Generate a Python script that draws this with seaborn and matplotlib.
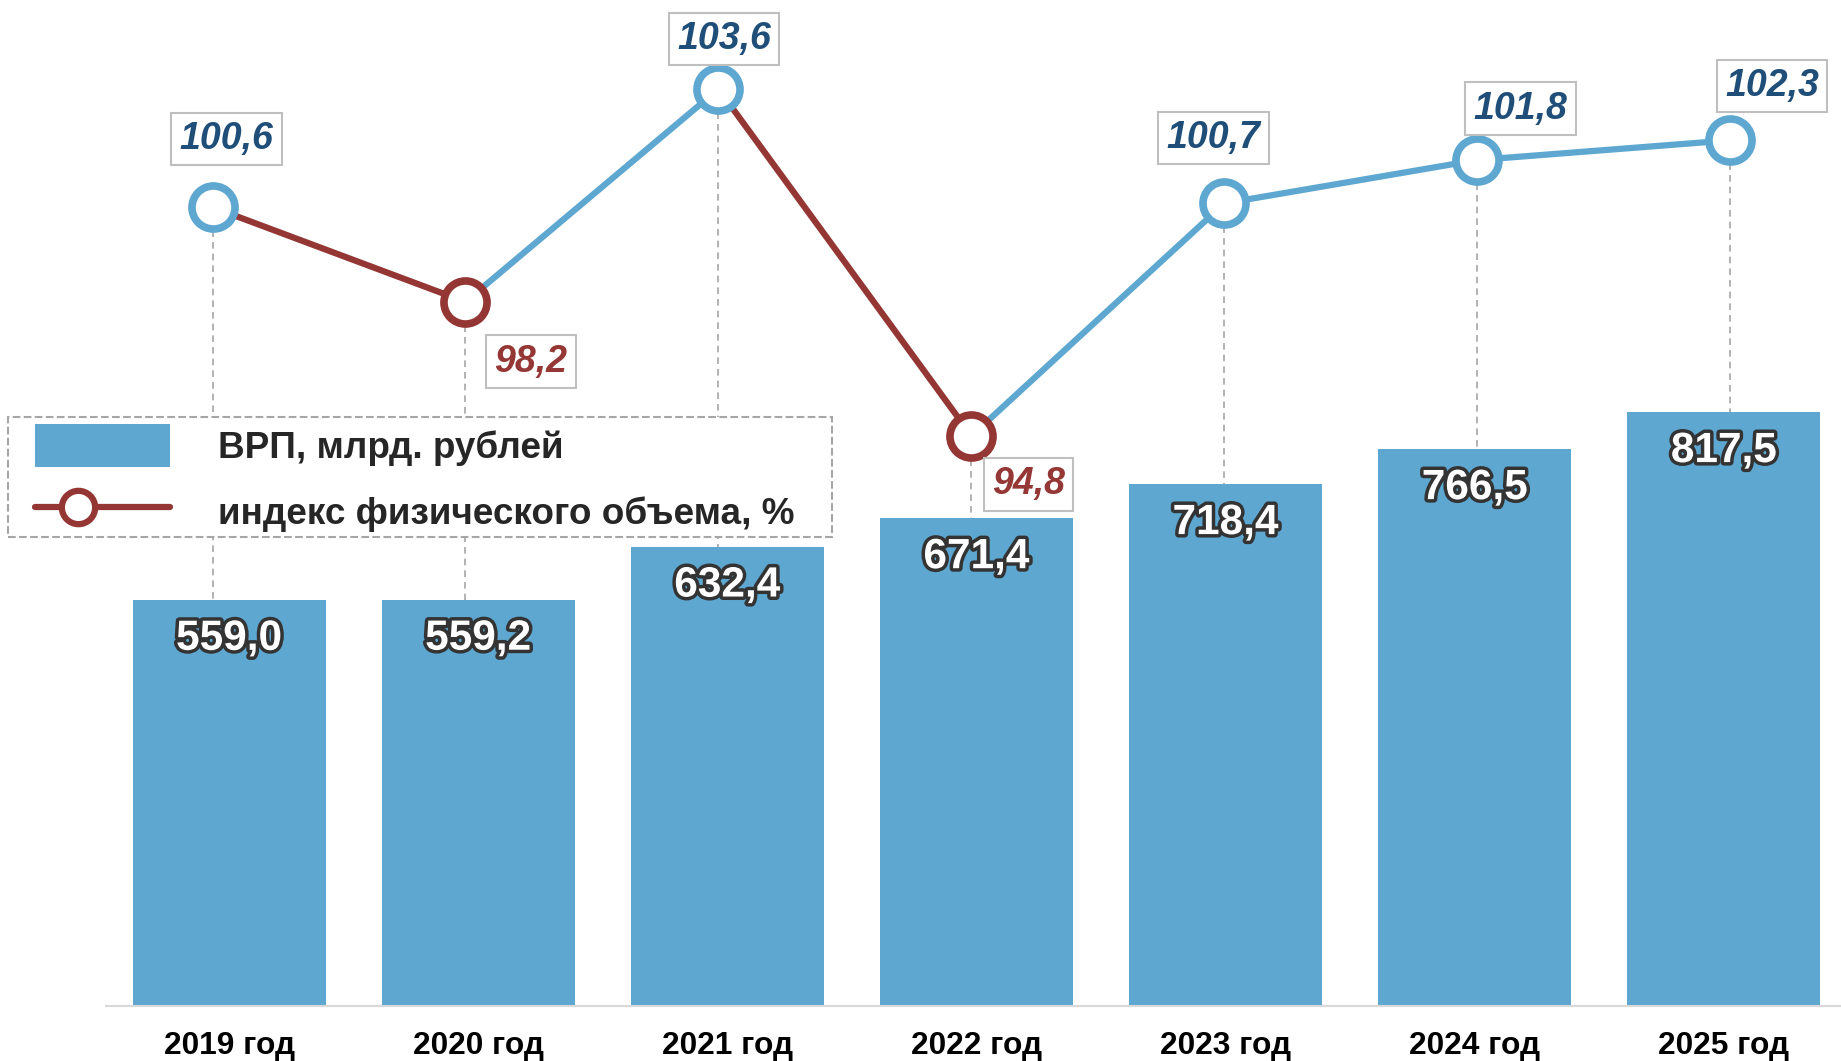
import matplotlib
matplotlib.use("Agg")
import matplotlib.pyplot as plt
import matplotlib.patheffects as pe
from matplotlib.patches import Patch, Rectangle
from matplotlib.lines import Line2D
from matplotlib.legend_handler import HandlerLine2D
import seaborn as sns
import pandas as pd

# data
years = ["2019 год", "2020 год", "2021 год", "2022 год", "2023 год", "2024 год", "2025 год"]
grp = [559.0, 559.2, 632.4, 671.4, 718.4, 766.5, 817.5]
index_vals = [100.6, 98.2, 103.6, 94.8, 100.7, 101.8, 102.3]
legend_labels = ["ВРП, млрд. рублей", "индекс физического объема, %"]

# style
BLUE = "#5DA7D1"
RED = "#943634"
DARK_BLUE = "#1F4E79"
LABEL_RED = "#953735"
GREY = "#A6A6A6"

# label offsets (points) for the index labels, hand-placed like in the original
label_offsets = [(10, 49), (47, -43), (4, 36), (41, -35), (-8, 47), (31, 37), (30, 39)]


def fmt(v):
    return f"{v:.1f}".replace(".", ",")


class LeftMarkerHandler(HandlerLine2D):
    # put the legend marker at about a third of the handle, like Excel does
    def create_artists(self, *args, **kwargs):
        artists = super().create_artists(*args, **kwargs)
        legline = artists[0]
        x = legline.get_xdata()
        legline.set_xdata([x[0], x[0] + 0.32 * (x[-1] - x[0]), x[-1]])
        return artists


sns.set_style("white")
plt.rcParams["font.family"] = ["Liberation Sans", "DejaVu Sans"]

W, H = 1841, 1061
fig = plt.figure(figsize=(W / 100, H / 100), dpi=100)
rect = [106 / W, 55 / H, 1735 / W, 1006 / H]

# Bars
ax = fig.add_axes(rect)
df = pd.DataFrame({"year": years, "grp": grp})
sns.barplot(data=df, x="year", y="grp", color=BLUE, saturation=1, width=0.775,
            linewidth=0, ax=ax)
ax.set_xlim(-0.494, 6.47)
ax.set_ylim(0, 1385)
ax.set_xlabel("")
ax.set_ylabel("")
ax.set_yticks([])
for s in ["top", "right", "left"]:
    ax.spines[s].set_visible(False)
ax.spines["bottom"].set_color("#D9D9D9")
ax.spines["bottom"].set_linewidth(1.5)
ax.tick_params(axis="x", length=0, pad=18, labelsize=22.8)
for lbl in ax.get_xticklabels():
    lbl.set_fontweight("bold")
    lbl.set_color("black")

for i, v in enumerate(grp):
    ax.annotate(fmt(v), (i, v), xytext=(0, -28), textcoords="offset points",
                ha="center", va="center", fontsize=30.5, fontweight="bold", color="white",
                path_effects=[pe.withStroke(linewidth=5, foreground="#333333")])

# Index line on its own axes
ax2 = fig.add_axes(rect)
ax2.set_xlim(-0.421, 6.437)
ax2.set_ylim(80.33, 105.86)
ax2.axis("off")
ax2.patch.set_visible(False)

for i in range(len(index_vals) - 1):
    c = RED if index_vals[i + 1] < index_vals[i] else BLUE
    ax2.plot([i, i + 1], index_vals[i:i + 2], color=c, lw=4.5, solid_capstyle="butt", zorder=3)

for i, v in enumerate(index_vals):
    disp = ax.transData.transform((i, grp[i]))
    y_top = ax2.transData.inverted().transform(disp)[1]
    ax2.plot([i, i], [v, y_top], color=GREY, lw=1.2, ls=(0, (4, 3)), zorder=2)

    c = BLUE if v >= 100 else RED
    ax2.plot(i, v, marker="o", ms=31, mew=5.5, mfc="white", mec=c, ls="none", zorder=5)

    tc = DARK_BLUE if v >= 100 else LABEL_RED
    ax2.annotate(fmt(v), (i, v), xytext=label_offsets[i], textcoords="offset points",
                 ha="center", va="center", fontsize=27, fontweight="bold", fontstyle="italic",
                 color=tc, zorder=6,
                 bbox=dict(boxstyle="square,pad=0.22", fc="white", ec="#BFBFBF", lw=1.5))

# Legend: dashed white box drawn separately, legend on top of it
box = Rectangle((8 / W, 1 - 537 / H), 824 / W, 120 / H, transform=fig.transFigure,
                facecolor="white", edgecolor=GREY, linestyle="--", linewidth=1.5, zorder=5)
fig.patches.append(box)

line_handle = Line2D([], [], color=RED, lw=4.5, marker="o", ms=24, mew=4.5, mfc="white", mec=RED)
handles = [Patch(facecolor=BLUE, edgecolor="none"), line_handle]
leg = fig.legend(handles, legend_labels, loc="upper left",
                 bbox_to_anchor=(35 / W, 1 - 424 / H),
                 frameon=False, prop={"weight": "bold", "size": 26.6},
                 handlelength=3.65, handleheight=1.43, handletextpad=1.3,
                 labelspacing=0.6, borderpad=0, borderaxespad=0,
                 handler_map={line_handle: LeftMarkerHandler()})
leg.set_zorder(6)

fig.savefig("out.png", dpi=100)
